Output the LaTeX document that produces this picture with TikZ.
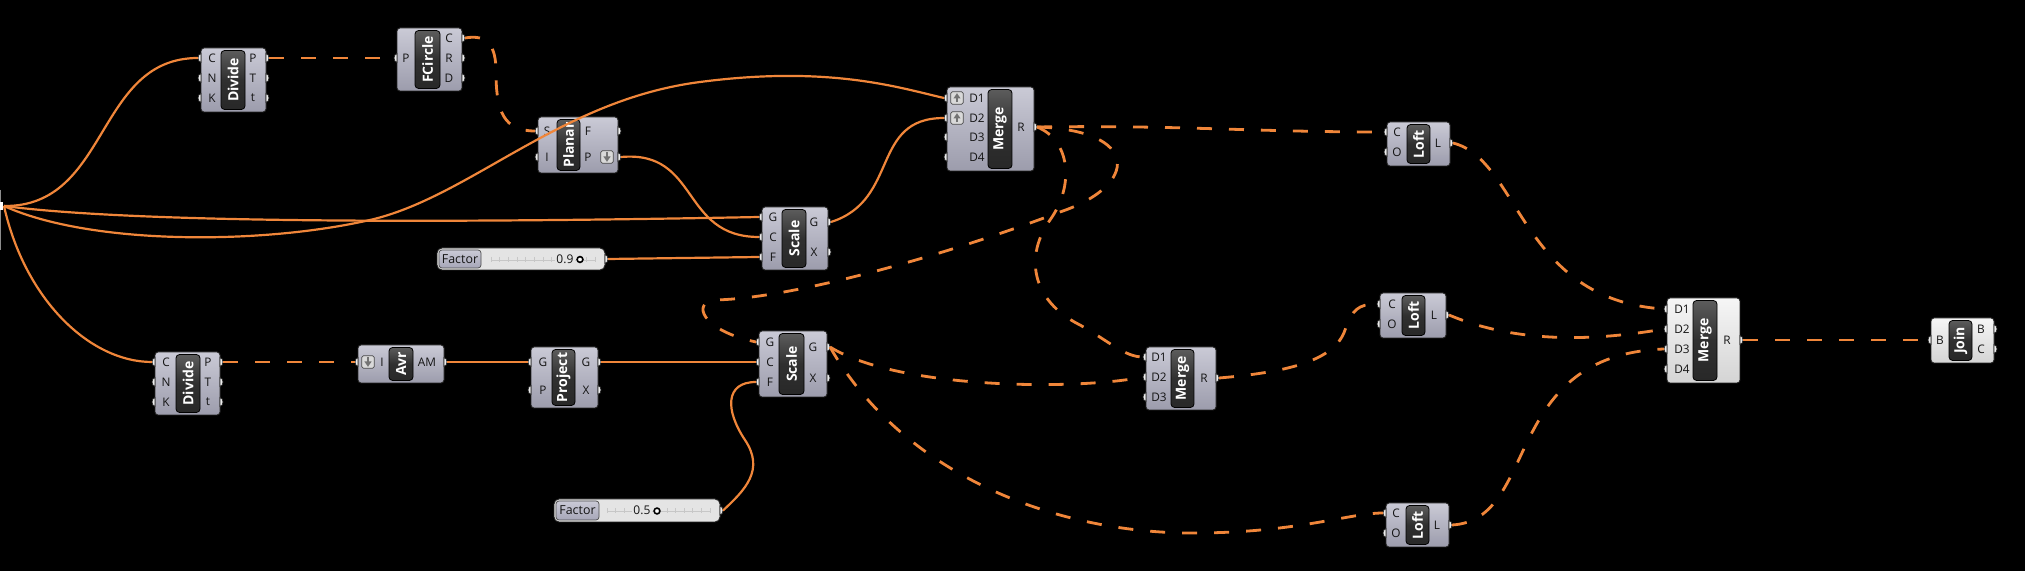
\documentclass[tikz,border=0pt]{standalone}
\usepackage{fontspec}
\setmainfont{Open Sans}
\usetikzlibrary{fit}
\definecolor{wire}{RGB}{240,134,58}
\definecolor{boxtop}{RGB}{202,202,214}
\definecolor{boxbot}{RGB}{156,156,172}
\definecolor{wtop}{RGB}{246,246,246}
\definecolor{wbot}{RGB}{212,212,212}
\definecolor{bartop}{RGB}{92,92,92}
\definecolor{barbot}{RGB}{40,40,40}
\definecolor{edge}{RGB}{38,38,38}
\definecolor{portfill}{RGB}{236,236,236}
\definecolor{slbg}{RGB}{228,228,228}
\definecolor{sllab}{RGB}{166,166,184}
\definecolor{lbltext}{RGB}{20,20,20}

\newcommand{\ghcomp}[9]{%
  \node[#9, fit={(#2,#3)(#4,#5)}] (#1) {};
  \node[gbar, fit={(#6,{#3+2.5})(#7,{#5-2.5})}] (#1-bar) {};
  \node[gtitle] (#1-title) at (#1-bar.center) {#8};
}
\newcommand{\ghin}[5]{%
  \draw[gport] (#2,{#3-4.4}) arc[start angle=90,end angle=270,x radius=1.5pt,y radius=2.2pt] -- cycle;
  \coordinate (#1) at ({#2-3},#3);
  \node[glabel] (#1-l) at (#4,#3) {#5};
}
\newcommand{\ghout}[5]{%
  \draw[gport] (#2,{#3+4.4}) arc[start angle=270,end angle=450,x radius=1.5pt,y radius=2.2pt] -- cycle;
  \coordinate (#1) at ({#2+3},#3);
  \node[glabel] (#1-l) at (#4,#3) {#5};
}
\newcommand{\ghup}[3]{%
  \node[gicon] (#1) at (#2,#3) {};
  \draw[garrow] (#2,{#3+4.5}) -- (#2,{#3-0.5});
  \fill[garrowfill] ({#2-3.6},{#3+0.5}) -- ({#2+3.6},{#3+0.5}) -- (#2,{#3-4.8}) -- cycle;
}
\newcommand{\ghdown}[3]{%
  \node[gicon] (#1) at (#2,#3) {};
  \draw[garrow] (#2,{#3-4.5}) -- (#2,{#3+0.5});
  \fill[garrowfill] ({#2-3.6},{#3-0.5}) -- ({#2+3.6},{#3-0.5}) -- (#2,{#3+4.8}) -- cycle;
}
\newcommand{\ghslider}[9]{%
  \pgfmathsetmacro{\slyc}{(#3+#5)/2}
  \node[sbox, fit={(#2,#3)(#4,#5)}] (#1) {};
  \node[slab, fit={({#2+2},{#3+2})(#6,{#5-2})}] (#1-lab) {};
  \node[glabel, font=\fontsize{6.2}{7}\selectfont] (#1-name) at (#1-lab.center) {Factor};
  \draw[stick] (#7,{\slyc+1}) -- ({#4-10},{\slyc+1});
  \foreach \k in {0,...,12} {\draw[stick] ({#7+\k*(#4-10-#7)/12},{\slyc-2}) -- ({#7+\k*(#4-10-#7)/12},{\slyc+3});}
  \node[glabel, anchor=east, fill=slbg, inner sep=0.6pt, font=\fontsize{6}{7}\selectfont] (#1-val) at ({#9-5},\slyc) {#8};
  \draw[knob] (#9,{\slyc+0.5}) circle (1.45pt);
  \draw[gport] (#4,{\slyc+4.4}) arc[start angle=270,end angle=450,x radius=1.5pt,y radius=2.2pt] -- cycle;
  \coordinate (#1-o) at ({#4+3},\slyc);
}

\begin{document}
\begin{tikzpicture}[x=0.5pt,y=-0.5pt,
  gbox/.style={draw=edge, line width=0.45pt, rounded corners=1.5pt, top color=boxtop, bottom color=boxbot, inner sep=0pt},
  wbox/.style={draw=edge, line width=0.45pt, rounded corners=1.5pt, top color=wtop, bottom color=wbot, inner sep=0pt},
  gbar/.style={draw=black, line width=0.4pt, rounded corners=1.8pt, top color=bartop, bottom color=barbot, middle color=barbot!85!bartop, inner sep=0pt},
  gtitle/.style={rotate=90, text=white, inner sep=0pt, font=\fontsize{7}{8}\selectfont\bfseries},
  glabel/.style={text=lbltext, inner sep=0pt, font=\fontsize{5.9}{6.5}\selectfont},
  gport/.style={draw=edge, line width=0.35pt, fill=portfill},
  gicon/.style={draw=black!70, line width=0.35pt, fill=black!15, rounded corners=0.8pt, minimum size=6.2pt, inner sep=0pt},
  garrow/.style={draw=black!55, line width=0.9pt},
  garrowfill/.style={fill=black!55},
  sbox/.style={draw=edge, line width=0.45pt, rounded corners=2.5pt, fill=slbg, inner sep=0pt},
  slab/.style={draw=black!70, line width=0.35pt, rounded corners=1.5pt, top color=boxtop, bottom color=sllab, inner sep=0pt},
  stick/.style={draw=black!22, line width=0.35pt},
  knob/.style={draw=black, line width=0.8pt, fill=white},
  wsolid/.style={draw=wire, line width=1.1pt},
  wdash/.style={draw=wire, line width=1.4pt, dash pattern=on 7.5pt off 8.5pt}]

\fill[black] (0,0) rectangle (2025,571);
\useasboundingbox (0,0) rectangle (2025,571);

% off-canvas source port
\draw[black!45, line width=0.3pt] (0.4,190) -- (0.4,250);
\fill[white] (0,202) rectangle (3,210);
\coordinate (src) at (4,206);

% Divide 1
\ghcomp{dv1}{201}{48}{266}{112}{221}{245}{Divide}{gbox}
\ghin{dv1-iC}{201}{58}{212}{C}
\ghin{dv1-iN}{201}{78}{212}{N}
\ghin{dv1-iK}{201}{98}{212}{K}
\ghout{dv1-oP}{266}{58}{253}{P}
\ghout{dv1-oT}{266}{78}{253}{T}
\ghout{dv1-ot}{266}{98}{253}{t}

% FCircle
\ghcomp{fc}{397}{28}{462}{91}{415}{440}{FCircle}{gbox}
\ghin{fc-iP}{397}{58}{406}{P}
\ghout{fc-oC}{462}{38}{449}{C}
\ghout{fc-oR}{462}{58}{449}{R}
\ghout{fc-oD}{462}{78}{449}{D}

% Planar
\ghcomp{pl}{538}{117}{618}{173}{557}{580}{Planar}{gbox}
\ghin{pl-iS}{538}{131}{547}{S}
\ghin{pl-iI}{538}{157}{547}{I}
\ghout{pl-oF}{618}{131}{588}{F}
\ghout{pl-oP}{618}{157}{588}{P}
\ghdown{pl-ic}{607}{157}

% Merge 1
\ghcomp{m1}{947}{87}{1034}{171}{988}{1012}{Merge}{gbox}
\ghin{m1-iD1}{947}{98}{977}{D1}
\ghin{m1-iD2}{947}{118}{977}{D2}
\ghin{m1-iD3}{947}{137}{977}{D3}
\ghin{m1-iD4}{947}{157}{977}{D4}
\ghout{m1-oR}{1034}{127}{1021}{R}
\ghup{m1-ic1}{957}{98}
\ghup{m1-ic2}{957}{118}

% Scale 1
\ghcomp{s1}{762}{207}{828}{270}{782}{806}{Scale}{gbox}
\ghin{s1-iG}{762}{217}{773}{G}
\ghin{s1-iC}{762}{237}{773}{C}
\ghin{s1-iF}{762}{257}{773}{F}
\ghout{s1-oG}{828}{222}{814}{G}
\ghout{s1-oX}{828}{252}{814}{X}

% Scale 2
\ghcomp{s2}{759}{331}{827}{397}{779}{804}{Scale}{gbox}
\ghin{s2-iG}{759}{342}{770}{G}
\ghin{s2-iC}{759}{362}{770}{C}
\ghin{s2-iF}{759}{382}{770}{F}
\ghout{s2-oG}{827}{347}{813}{G}
\ghout{s2-oX}{827}{378}{813}{X}

% Merge 2
\ghcomp{m2}{1146}{347}{1216}{410}{1171}{1194}{Merge}{gbox}
\ghin{m2-iD1}{1146}{357}{1159}{D1}
\ghin{m2-iD2}{1146}{377}{1159}{D2}
\ghin{m2-iD3}{1146}{397}{1159}{D3}
\ghout{m2-oR}{1216}{378}{1204}{R}

% Loft 1
\ghcomp{l1}{1387}{122}{1450}{166}{1407}{1430}{Loft}{gbox}
\ghin{l1-iC}{1387}{132}{1397}{C}
\ghin{l1-iO}{1387}{152}{1397}{O}
\ghout{l1-oL}{1450}{143}{1438}{L}

% Loft 2
\ghcomp{l2}{1380}{293}{1446}{338}{1402}{1425}{Loft}{gbox}
\ghin{l2-iC}{1380}{304}{1392}{C}
\ghin{l2-iO}{1380}{324}{1392}{O}
\ghout{l2-oL}{1446}{315}{1434}{L}

% Loft 3
\ghcomp{l3}{1386}{503}{1449}{547}{1406}{1429}{Loft}{gbox}
\ghin{l3-iC}{1386}{513}{1396}{C}
\ghin{l3-iO}{1386}{533}{1396}{O}
\ghout{l3-oL}{1449}{525}{1437}{L}

% Merge 3
\ghcomp{m3}{1667}{298}{1740}{383}{1693}{1717}{Merge}{wbox}
\ghin{m3-iD1}{1667}{309}{1682}{D1}
\ghin{m3-iD2}{1667}{329}{1682}{D2}
\ghin{m3-iD3}{1667}{349}{1682}{D3}
\ghin{m3-iD4}{1667}{369}{1682}{D4}
\ghout{m3-oR}{1740}{340}{1727}{R}

% Join
\ghcomp{jn}{1931}{318}{1994}{363}{1949}{1972}{Join}{wbox}
\ghin{jn-iB}{1931}{340}{1940}{B}
\ghout{jn-oB}{1994}{329}{1981}{B}
\ghout{jn-oC}{1994}{349}{1981}{C}

% Divide 2
\ghcomp{dv2}{155}{352}{220}{415}{176}{200}{Divide}{gbox}
\ghin{dv2-iC}{155}{362}{166}{C}
\ghin{dv2-iN}{155}{382}{166}{N}
\ghin{dv2-iK}{155}{402}{166}{K}
\ghout{dv2-oP}{220}{362}{208}{P}
\ghout{dv2-oT}{220}{382}{208}{T}
\ghout{dv2-ot}{220}{402}{208}{t}

% Average
\ghcomp{av}{358}{345}{444}{383}{389}{413}{Avr}{gbox}
\ghin{av-iI}{358}{362}{382}{I}
\ghout{av-oAM}{444}{362}{427}{AM}
\ghdown{av-ic}{368}{362}

% Project
\ghcomp{pr}{531}{347}{598}{408}{552}{575}{Project}{gbox}
\ghin{pr-iG}{531}{362}{543}{G}
\ghin{pr-iP}{531}{390}{543}{P}
\ghout{pr-oG}{598}{362}{586}{G}
\ghout{pr-oX}{598}{390}{586}{X}

% Sliders
\ghslider{f1}{437}{248}{605}{270}{481}{491}{0.9}{580}
\ghslider{f2}{554}{499}{720}{522}{599}{607}{0.5}{657}

% ---- wires ----
\draw[wsolid] (src) .. controls (110,207) and (95,58) .. (dv1-iC);
\draw[wsolid] (src) .. controls (150,225) and (500,222) .. (s1-iG);
\draw[wsolid] (src) .. controls (90,245) and (260,245) .. (370,220) .. controls (470,197) and (560,100) .. (700,82) .. controls (830,65) and (900,88) .. (m1-iD1);
\draw[wsolid] (src) .. controls (25,300) and (90,362) .. (dv2-iC);
\draw[wdash] (dv1-oP) -- (fc-iP);
\draw[wdash] (fc-oC) .. controls (488,34) and (496,46) .. (496,72) .. controls (496,112) and (504,131) .. (pl-iS);
\draw[wsolid] (pl-oP) .. controls (700,150) and (680,237) .. (s1-iC);
\draw[wsolid] (f1-o) -- (s1-iF);
\draw[wsolid] (s1-oG) .. controls (900,200) and (870,118) .. (m1-iD2);
\draw[wdash] (m1-oR) .. controls (1180,125) and (1250,132) .. (l1-iC);
\draw[wdash] (m1-oR) .. controls (1070,140) and (1075,185) .. (1050,220) .. controls (1025,255) and (1030,300) .. (1080,325) .. controls (1110,342) and (1125,357) .. (m2-iD1);
\draw[wdash] (m1-oR) .. controls (1140,130) and (1140,185) .. (1060,212) .. controls (960,250) and (800,298) .. (715,300) .. controls (692,302) and (700,330) .. (s2-iG);
\draw[wdash] (dv2-oP) -- (av-iI);
\draw[wsolid] (av-oAM) -- (pr-iG);
\draw[wsolid] (pr-oG) -- (s2-iC);
\draw[wsolid] (f2-o) .. controls (745,490) and (765,470) .. (745,440) .. controls (725,410) and (725,382) .. (s2-iF);
\draw[wdash] (s2-oG) .. controls (900,390) and (1080,390) .. (m2-iD2);
\draw[wdash] (s2-oG) .. controls (900,470) and (1050,535) .. (1200,533) .. controls (1300,532) and (1350,513) .. (l3-iC);
\draw[wdash] (m2-oR) .. controls (1290,372) and (1335,360) .. (1345,330) .. controls (1352,310) and (1358,304) .. (l2-iC);
\draw[wdash] (l1-oL) .. controls (1520,160) and (1520,300) .. (m3-iD1);
\draw[wdash] (l2-oL) .. controls (1520,345) and (1600,340) .. (m3-iD2);
\draw[wdash] (l3-oL) .. controls (1540,520) and (1500,355) .. (m3-iD3);
\draw[wdash] (m3-oR) -- (jn-iB);
\end{tikzpicture}
\end{document}
